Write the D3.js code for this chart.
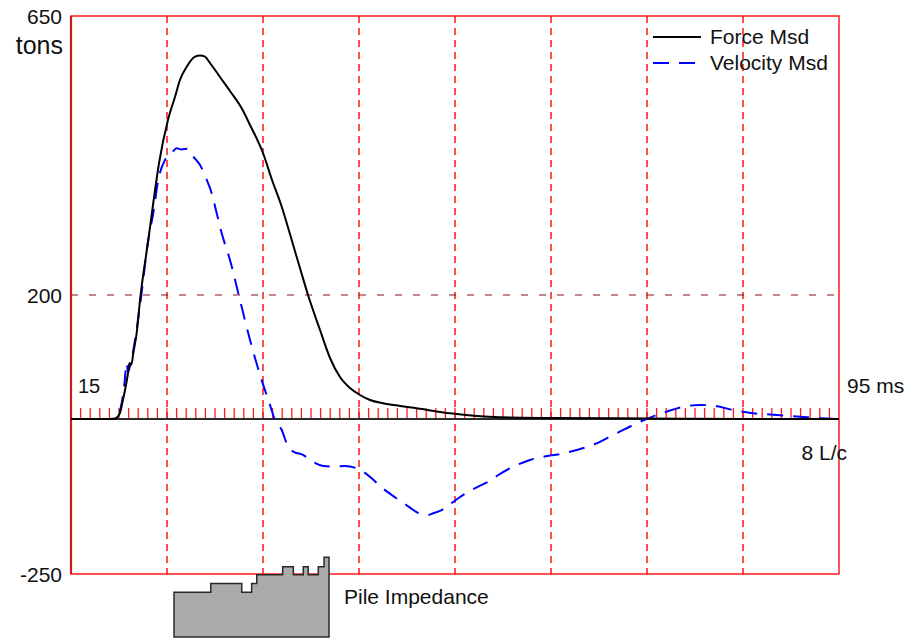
<!DOCTYPE html>
<html>
<head>
<meta charset="utf-8">
<script src="https://cdn.jsdelivr.net/npm/d3@7"></script>
<style>
  html, body { margin: 0; padding: 0; background: #fff; }
  svg { display: block; font-family: "Liberation Sans", Arial, sans-serif; }
</style>
</head>
<body>
<svg id="chart" width="919" height="639"></svg>
<script>
// Measured force trace: [time (ms), tons]
const forceMsd = [
  [15, 0], [19.06, 0], [19.58, 0.8], [20.10, 9.7], [20.34, 25.8], [20.63, 46.8],
  [20.94, 74.2], [21.09, 90.3], [21.3, 88], [21.49, 106.5], [21.84, 138.7],
  [22.19, 191.9], [23.05, 288.7], [23.57, 348.4], [24.17, 412.9], [25.10, 482.3],
  [25.83, 519.4], [26.35, 546.8], [27.05, 568.2], [27.92, 584.4], [28.44, 586.3],
  [28.96, 584.4], [29.48, 574.2], [30.52, 551.6], [31.56, 529.0], [32.78, 501.1],
  [33.65, 474.2], [35.00, 429.0], [35.94, 385.5], [36.95, 342.4], [37.99, 288.7],
  [38.85, 243.5], [39.69, 200], [40.94, 143.5], [41.98, 98.4], [43.02, 67.7],
  [44.06, 50.0], [45.10, 38.7], [46.15, 30.6], [47.50, 25.3], [49.27, 21.0],
  [51.01, 17.3], [54.48, 9.2], [59.69, 2.7], [64.9, 1.6], [75.3, 0.8],
  [85.7, 0], [95, 0]
];

// Measured velocity trace scaled by impedance: [time (ms), tons]
const velocityMsd = [
  [15, 0], [19.24, 0], [19.93, 6.5], [20.28, 25.8], [20.55, 54.8], [20.80, 90.3],
  [20.94, 75.8], [21.25, 91.9], [21.67, 127.4], [22.19, 183.9], [23.05, 288.7],
  [23.57, 332.3], [24.09, 385.5], [24.79, 417.7], [25.49, 429.0], [26.01, 436.6],
  [26.53, 434.7], [27.11, 436.0], [27.74, 423.1], [28.44, 409.7], [29.14, 385.5],
  [29.66, 364.0], [30.18, 331.8], [30.70, 299.5], [31.56, 256.5], [32.60, 191.9],
  [33.65, 127.4], [34.69, 71.0], [35.73, 22.6], [36.25, -1.6], [36.95, -17.7],
  [37.47, -39.2], [38.16, -52.7], [39.20, -58.1], [40.07, -67.7], [41.28, -75.8],
  [42.32, -76.9], [43.54, -75.8], [44.76, -79.5], [45.45, -85.0], [46.32, -95.6],
  [47.19, -108.1], [48.75, -126.3], [49.79, -137.1], [50.66, -146.8], [51.53, -153.7],
  [52.19, -154.8], [52.74, -152.1], [53.61, -146.8], [54.48, -137.6], [55.34, -127.9],
  [56.39, -117.3], [57.26, -110.2], [58.47, -101.1], [59.51, -90.3], [61.07, -76.9],
  [62.81, -66.1], [64.20, -60.8], [65.94, -56.5], [67.68, -50.0], [69.76, -39.2],
  [70.80, -31.1], [72.53, -17.7], [73.93, -6.9], [74.97, 0], [76.01, 6.5],
  [77.05, 11.8], [78.78, 19.8], [80.52, 22.6], [81.91, 21.5], [83.99, 14.5],
  [86.07, 9.2], [87.47, 7.6], [89.55, 5.3], [90.94, 3.7], [93.02, 1.1], [95, 0]
];

// Pile impedance profile: [start of segment (% of pile length), relative impedance]
const pileImpedance = [
  [0, 56], [23.7, 67], [43.7, 56], [50.1, 67], [53.4, 78], [70.1, 88],
  [77.0, 78], [83.4, 88], [86.6, 78], [93.1, 88], [96.8, 100], [100, 100]
];

const timeDomain = [15, 95];          // ms
const forceDomain = [-250, 650];      // tons
const yTickLabels = [650, 200, -250];
const lcGridTimes = [25, 35, 45, 55, 65, 75, 85];   // 1..7 L/c
const msTicks = d3.range(16, 95);                   // 1 ms marks
const refLevel = 200;

const svg = d3.select("#chart");
const plot = { left: 71, right: 839, top: 16, bottom: 574 };

const x = d3.scaleLinear().domain(timeDomain).range([plot.left, plot.right]);
const y = d3.scaleLinear().domain(forceDomain).range([plot.bottom, plot.top]);

// Vertical L/c grid lines
svg.append("g").selectAll("line").data(lcGridTimes).join("line")
  .attr("x1", d => x(d)).attr("x2", d => x(d))
  .attr("y1", plot.top).attr("y2", plot.bottom)
  .attr("stroke", "#ff4d4d").attr("stroke-width", 2)
  .attr("stroke-dasharray", "7,5");

// Reference level line
svg.append("line")
  .attr("x1", plot.left).attr("x2", plot.right)
  .attr("y1", y(refLevel)).attr("y2", y(refLevel))
  .attr("stroke", "#8b1212").attr("stroke-width", 1.2)
  .attr("stroke-dasharray", "7,11");

// Millisecond ticks along the zero line
svg.append("g").selectAll("line").data(msTicks).join("line")
  .attr("x1", d => x(d)).attr("x2", d => x(d))
  .attr("y1", y(0) - 11).attr("y2", y(0))
  .attr("stroke", "#ff1a1a").attr("stroke-width", 1.3);

// Zero line
svg.append("line")
  .attr("x1", plot.left).attr("x2", plot.right)
  .attr("y1", y(0)).attr("y2", y(0))
  .attr("stroke", "#2a2a2a").attr("stroke-width", 2);

// Frame
svg.append("rect")
  .attr("x", plot.left).attr("y", plot.top)
  .attr("width", plot.right - plot.left).attr("height", plot.bottom - plot.top)
  .attr("fill", "none").attr("stroke", "#ff1a1a").attr("stroke-width", 1.5);
svg.append("line")
  .attr("x1", plot.left).attr("x2", plot.left)
  .attr("y1", plot.top).attr("y2", plot.bottom)
  .attr("stroke", "#d01818").attr("stroke-width", 2.2);

// Traces
const line = d3.line().x(d => x(d[0])).y(d => y(d[1])).curve(d3.curveMonotoneX);
svg.append("path").datum(velocityMsd)
  .attr("d", line).attr("fill", "none")
  .attr("stroke", "#0000ff").attr("stroke-width", 2)
  .attr("stroke-dasharray", "16,10");
svg.append("path").datum(forceMsd)
  .attr("d", line).attr("fill", "none")
  .attr("stroke", "#000").attr("stroke-width", 2);

// Y tick labels
svg.append("g").selectAll("text").data(yTickLabels).join("text")
  .attr("x", 62).attr("y", d => y(d) + 8)
  .attr("text-anchor", "end").attr("font-size", 21).attr("fill", "#111")
  .text(d => d);
svg.append("text")
  .attr("x", 63).attr("y", 54).attr("text-anchor", "end")
  .attr("font-size", 25).attr("fill", "#111").text("tons");

// Time labels
svg.append("text").attr("x", 78).attr("y", 393)
  .attr("font-size", 20).attr("fill", "#111").text(timeDomain[0]);
svg.append("text").attr("x", 847).attr("y", 393)
  .attr("font-size", 21).attr("fill", "#111").text(timeDomain[1] + " ms");
svg.append("text").attr("x", 847).attr("y", 460).attr("text-anchor", "end")
  .attr("font-size", 21).attr("fill", "#111").text(lcGridTimes.length + 1 + " L/c");

// Legend
const legend = [
  { label: "Force Msd", color: "#000", dash: null, yPos: 37 },
  { label: "Velocity Msd", color: "#0000ff", dash: "16,10", yPos: 63 }
];
const lg = svg.append("g");
legend.forEach(item => {
  lg.append("line")
    .attr("x1", 653).attr("x2", 701).attr("y1", item.yPos).attr("y2", item.yPos)
    .attr("stroke", item.color).attr("stroke-width", 2)
    .attr("stroke-dasharray", item.dash);
  lg.append("text")
    .attr("x", 710).attr("y", item.yPos + 7)
    .attr("font-size", 21).attr("fill", "#111").text(item.label);
});

// Pile impedance profile
const px = d3.scaleLinear().domain([0, 100]).range([174, 329]);
const py = d3.scaleLinear().domain([0, 100]).range([637, 557.3]);
const area = d3.area().x(d => px(d[0])).y0(py(0)).y1(d => py(d[1])).curve(d3.curveStepAfter);
svg.append("path").datum(pileImpedance)
  .attr("d", area).attr("fill", "#aaaaaa")
  .attr("stroke", "#2a2a2a").attr("stroke-width", 1.5).attr("stroke-linejoin", "miter");
svg.append("text").attr("x", 344).attr("y", 604)
  .attr("font-size", 21).attr("fill", "#111").text("Pile Impedance");
</script>
</body>
</html>
